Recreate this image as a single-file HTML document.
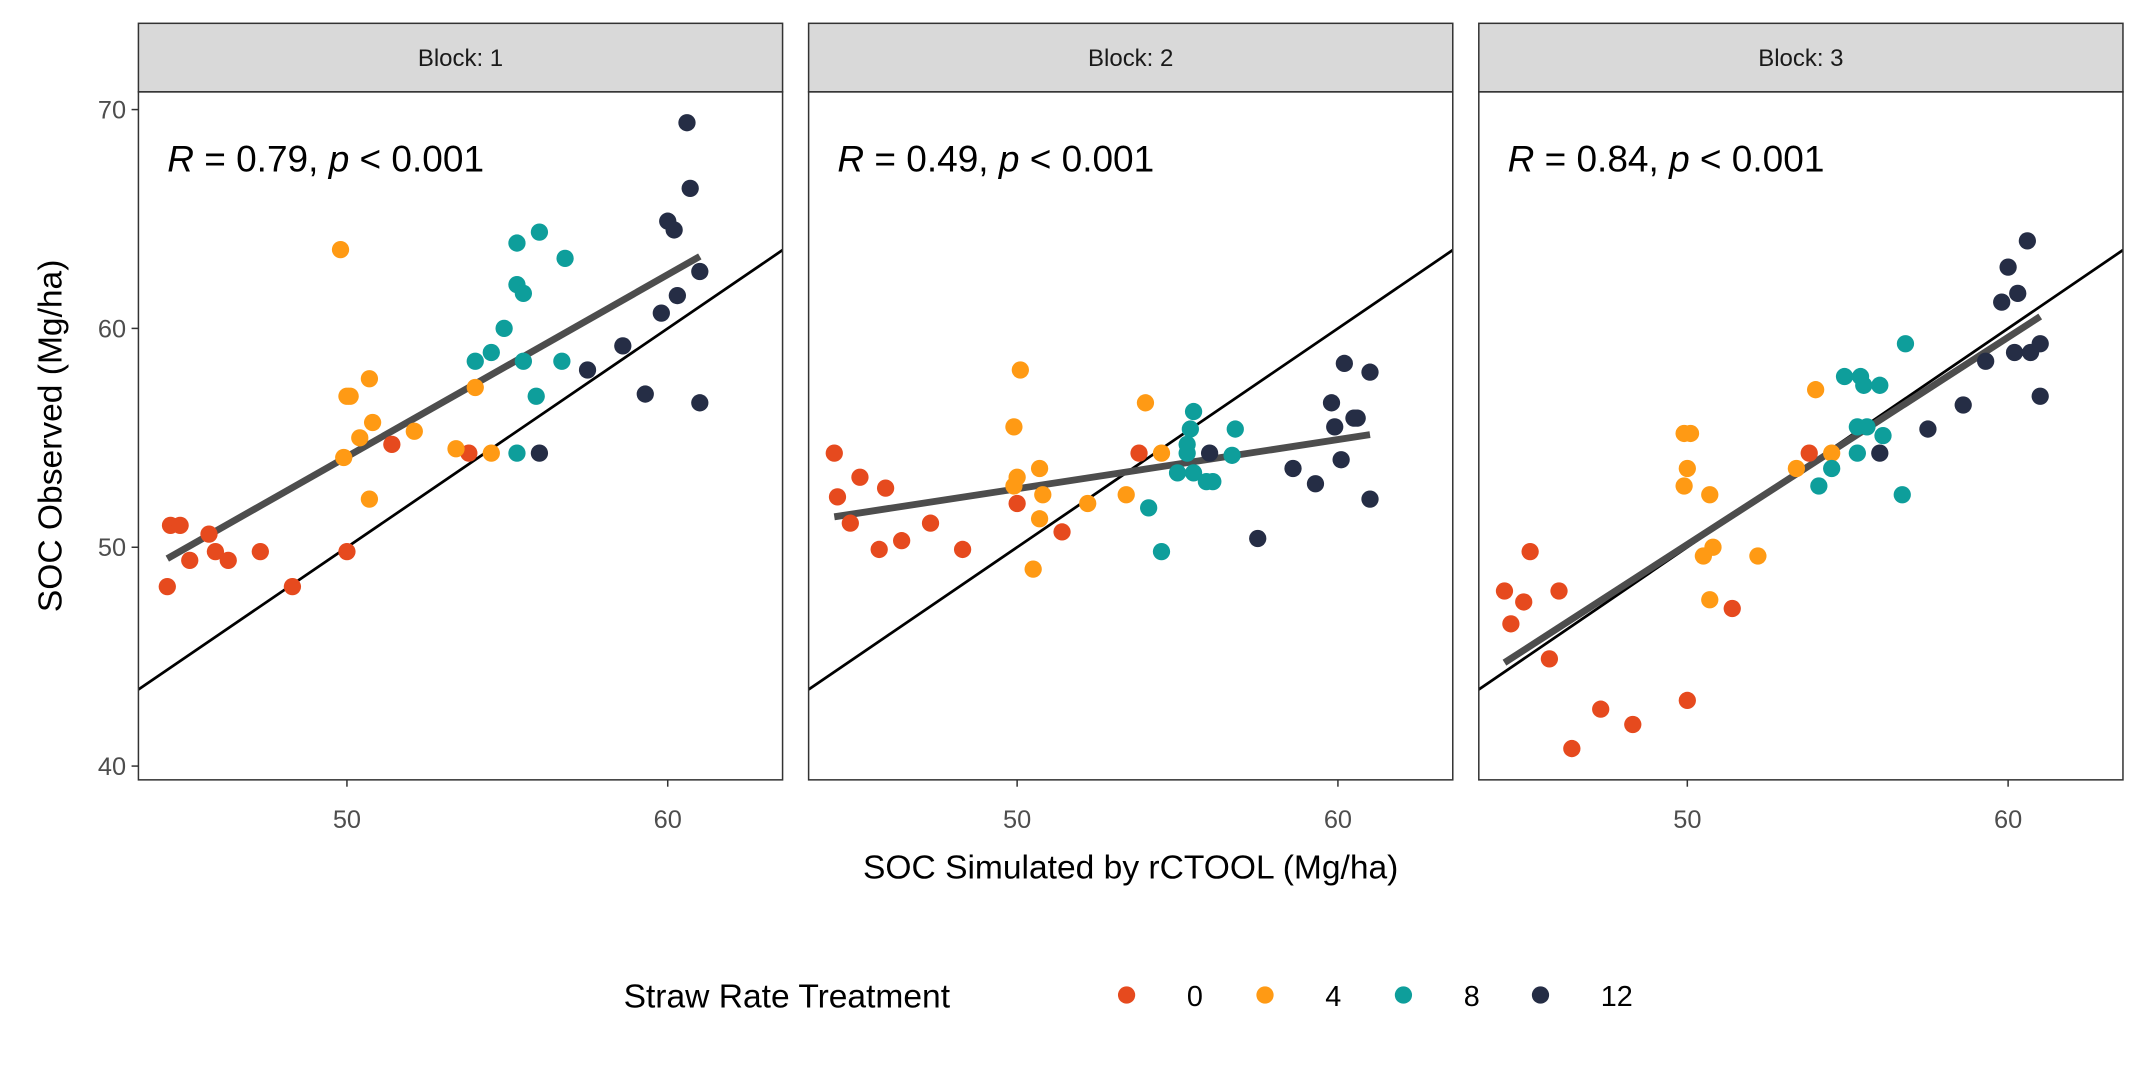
<!DOCTYPE html>
<html><head><meta charset="utf-8"><style>
html,body{margin:0;padding:0;background:#fff}
svg{display:block}
text{font-family:"Liberation Sans",Arial,sans-serif}
</style></head><body>
<svg id="chart" width="2149" height="1074" viewBox="0 0 1568 783.6" xmlns="http://www.w3.org/2000/svg"></svg>
<script>
const blocks = ["Block: 1","Block: 2","Block: 3"];
const corrLabels = [["0.79"],["0.49"],["0.84"]];
const treatments = ["0","4","8","12"];
const colors = ["#E64A1E","#FF9A14","#0E9E9B","#252D45"];
const xTicks = [50,60];
const yTicks = [40,50,60,70];
// simulated (x) and observed (y) per block per treatment
const b1x0=[44.4,44.5,44.8,45.1,45.7,45.9,46.3,47.3,48.3,50.0,51.4,53.8];
const b1y0=[48.2,51.0,51.0,49.4,50.6,49.8,49.4,49.8,48.2,49.8,54.7,54.3];
const b1x4=[49.8,49.9,50.0,50.1,50.7,50.8,50.4,50.7,52.1,53.4,54.0,54.5];
const b1y4=[63.6,54.1,56.9,56.9,57.7,55.7,55.0,52.2,55.3,54.5,57.3,54.3];
const b1x8=[54.0,54.5,54.9,55.3,55.3,55.3,55.5,55.5,56.0,55.9,56.7,56.8];
const b1y8=[58.5,58.9,60.0,54.3,63.9,62.0,61.6,58.5,64.4,56.9,58.5,63.2];
const b1x12=[56.0,57.5,58.6,59.3,59.8,60.0,60.2,60.3,60.6,60.7,61.0,61.0];
const b1y12=[54.3,58.1,59.2,57.0,60.7,64.9,64.5,61.5,69.4,66.4,62.6,56.6];
const b2x0=[44.3,44.4,44.8,45.1,45.7,45.9,46.4,47.3,48.3,50.0,51.4,53.8];
const b2y0=[54.3,52.3,51.1,53.2,49.9,52.7,50.3,51.1,49.9,52.0,50.7,54.3];
const b2x4=[49.9,50.0,49.9,50.1,50.7,50.8,50.7,50.5,54.0,52.2,53.4,54.5];
const b2y4=[55.5,53.2,52.8,58.1,53.6,52.4,51.3,49.0,56.6,52.0,52.4,54.3];
const b2x8=[55.5,55.4,55.3,55.3,56.8,56.7,55.0,55.5,55.9,56.1,54.1,54.5];
const b2y8=[56.2,55.4,54.7,54.3,55.4,54.2,53.4,53.4,53.0,53.0,51.8,49.8];
const b2x12=[56.0,57.5,58.6,59.3,59.8,60.2,59.9,60.1,60.5,60.6,61.0,61.0];
const b2y12=[54.3,50.4,53.6,52.9,56.6,58.4,55.5,54.0,55.9,55.9,58.0,52.2];
const b3x0=[44.3,44.5,44.9,45.1,46.0,45.7,46.4,47.3,48.3,50.0,51.4,53.8];
const b3y0=[48.0,46.5,47.5,49.8,48.0,44.9,40.8,42.6,41.9,43.0,47.2,54.3];
const b3x4=[49.9,50.1,50.0,49.9,50.7,50.8,50.5,50.7,52.2,54.0,53.4,54.5];
const b3y4=[55.2,55.2,53.6,52.8,52.4,50.0,49.6,47.6,49.6,57.2,53.6,54.3];
const b3x8=[54.9,55.4,55.5,56.0,56.8,55.3,55.6,56.1,55.3,54.5,54.1,56.7];
const b3y8=[57.8,57.8,57.4,57.4,59.3,55.5,55.5,55.1,54.3,53.6,52.8,52.4];
const b3x12=[56.0,57.5,58.6,59.3,59.8,60.0,60.3,60.6,60.2,60.7,61.0,61.0];
const b3y12=[54.3,55.4,56.5,58.5,61.2,62.8,61.6,64.0,58.9,58.9,59.3,56.9];
const dataX=[[b1x0,b1x4,b1x8,b1x12],[b2x0,b2x4,b2x8,b2x12],[b3x0,b3x4,b3x8,b3x12]];
const dataY=[[b1y0,b1y4,b1y8,b1y12],[b2y0,b2y4,b2y8,b2y12],[b3y0,b3y4,b3y8,b3y12]];

const NS="http://www.w3.org/2000/svg";
const svg=document.getElementById('chart');
function mk(tag,attrs,parent){const e=document.createElementNS(NS,tag);for(const k in attrs)e.setAttribute(k,attrs[k]);(parent||svg).appendChild(e);return e;}
const panelL=[101,590,1079], panelW=470, plotTop=67, plotBot=569, stripTop=17;
const xMin=43.5,xMax=63.58,yMin=39.37,yMax=70.81;
function sx(p,v){return panelL[p]+(v-xMin)/(xMax-xMin)*panelW;}
function sy(v){return plotBot-(v-yMin)/(yMax-yMin)*(plotBot-plotTop);}

for(let p=0;p<3;p++){
  const g=mk('g',{});
  
  
  const strip=mk('rect',{x:panelL[p],y:stripTop,width:panelW,height:plotTop-stripTop,fill:'#D9D9D9',stroke:'#333',"stroke-width":1.1},g);
  
  
  const st=mk('text',{x:panelL[p]+panelW/2,y:48,"text-anchor":"middle","font-size":17.5,fill:'#1A1A1A'},g);
  st.textContent=blocks[p];
  
  
  const clipId='clip'+p;
  const cp=mk('clipPath',{id:clipId},g);mk('rect',{x:panelL[p],y:plotTop,width:panelW,height:plotBot-plotTop},cp);
  const inner=mk('g',{"clip-path":"url(#"+clipId+")"},g);
  const id=mk('line',{x1:sx(p,xMin),y1:sy(xMin),x2:sx(p,xMax),y2:sy(xMax),stroke:'#000',"stroke-width":2},inner);
  
  
  let xs=[],ys=[];
  for(let t=0;t<4;t++){xs=xs.concat(dataX[p][t]);ys=ys.concat(dataY[p][t]);}
  const n=xs.length,mx=xs.reduce((a,b)=>a+b)/n,my=ys.reduce((a,b)=>a+b)/n;
  let sxy=0,sxx=0;for(let i=0;i<n;i++){sxy+=(xs[i]-mx)*(ys[i]-my);sxx+=(xs[i]-mx)**2;}
  const b=sxy/sxx,a=my-b*mx,x0=Math.min(...xs),x1=Math.max(...xs);
  const reg=mk('line',{x1:sx(p,x0),y1:sy(a+b*x0),x2:sx(p,x1),y2:sy(a+b*x1),stroke:'#4D4D4D',"stroke-width":5},inner);
  
  
  for(let t=0;t<4;t++){
    for(let i=0;i<dataX[p][t].length;i++){
      const c=mk('circle',{cx:sx(p,dataX[p][t][i]),cy:sy(dataY[p][t][i]),r:6.3,fill:colors[t]},inner);
      
      
    }
  }
  const fr=mk('rect',{x:panelL[p],y:plotTop,width:panelW,height:plotBot-plotTop,fill:'none',stroke:'#333',"stroke-width":1.1},g);
  
  
  const an=mk('text',{x:panelL[p]+21,y:125,"font-size":27,fill:'#000'},g);
  an.innerHTML='<tspan font-style="italic">R</tspan> = '+corrLabels[p][0]+', <tspan font-style="italic">p</tspan> &lt; 0.001';
  
  
  for(const v of xTicks){
    mk('line',{x1:sx(p,v),x2:sx(p,v),y1:plotBot,y2:plotBot+5,stroke:'#333',"stroke-width":1.1},g);
    const tl=mk('text',{x:sx(p,v),y:604,"text-anchor":"middle","font-size":18.5,fill:'#4D4D4D'},g);
    tl.textContent=v;
    
    
  }
}
for(const v of yTicks){
  mk('line',{x1:96,x2:101,y1:sy(v),y2:sy(v),stroke:'#333',"stroke-width":1.1});
  const tl=mk('text',{x:92,y:sy(v)+6.5,"text-anchor":"end","font-size":18.5,fill:'#4D4D4D'});
  tl.textContent=v;
  
  
}
const xt=mk('text',{x:825,y:641,"text-anchor":"middle","font-size":24.5,fill:'#000'});
xt.textContent='SOC Simulated by rCTOOL (Mg/ha)';


const yt=mk('text',{x:0,y:0,"text-anchor":"middle","font-size":24.5,fill:'#000',transform:'translate(45,318) rotate(-90)'});
yt.textContent='SOC Observed (Mg/ha)';


const lt=mk('text',{x:455,y:735,"font-size":24.5,fill:'#000'});
lt.textContent='Straw Rate Treatment';


const legX=[822,923,1024,1124];
for(let t=0;t<4;t++){
  const lg=mk('g',{});
  
  
  mk('circle',{cx:legX[t],cy:726,r:6.3,fill:colors[t]},lg);
  const tx=mk('text',{x:legX[t]+44,y:734,"font-size":21,fill:'#000'},lg);
  tx.textContent=treatments[t];
}
</script>
</body></html>
